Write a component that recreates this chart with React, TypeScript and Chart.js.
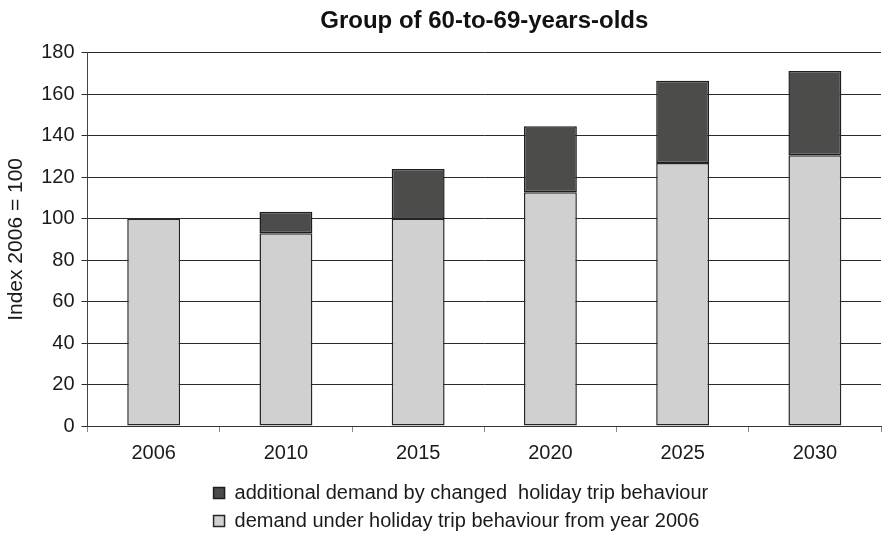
import React, { useEffect, useRef } from "react";
import { Chart, registerables } from "chart.js";

Chart.register(...registerables);

const categories = ["2006", "2010", "2015", "2020", "2025", "2030"];
const baseDemand = [100, 93, 100, 112.8, 126.9, 130.6];
const additionalDemand = [0, 10.3, 24, 31.8, 39.6, 40.6];
const yMin = 0;
const yMax = 180;
const yStep = 20;

const titleText = "Group of 60-to-69-years-olds";
const yTitle = "Index 2006 = 100";
const baseLabel = "demand under holiday trip behaviour from year 2006";
const addLabel = "additional demand by changed  holiday trip behaviour";

const FONT = "'Liberation Sans', Arial, Helvetica, sans-serif";
const TEXT = "#1a1a1a";
const LEGEND_OFFSET = 118;
const LEGEND_DY = 1;

const legendShift = {
  id: "legendShift",
  afterLayout(chart: any) {
    const lg = chart.legend;
    if (!lg) return;
    const w = lg.right - lg.left;
    const start = chart.chartArea.left + LEGEND_OFFSET;
    lg.left = start;
    lg.right = start + w;
    lg.top += LEGEND_DY;
    lg.bottom += LEGEND_DY;
  },
};

export default function App() {
  const ref = useRef<HTMLCanvasElement | null>(null);

  useEffect(() => {
    document.body.style.margin = "0";
    const canvas = ref.current;
    if (!canvas) return;
    const chart = new Chart(canvas, {
      type: "bar",
      data: {
        labels: categories,
        datasets: [
          {
            label: baseLabel,
            data: baseDemand,
            backgroundColor: "#d0d0d0",
            borderColor: "#262626",
            borderWidth: 1.5,
            borderSkipped: false,
            categoryPercentage: 1,
            barPercentage: 0.4,
          },
          {
            label: addLabel,
            data: additionalDemand,
            backgroundColor: "#4c4c4b",
            borderColor: "#1e1e1e",
            borderWidth: 1.5,
            borderSkipped: false,
            categoryPercentage: 1,
            barPercentage: 0.4,
          },
        ],
      },
      options: {
        responsive: false,
        animation: false,
        events: [],
        layout: { padding: { left: 0, right: 1, top: 0, bottom: -2 } },
        scales: {
          x: {
            stacked: true,
            offset: true,
            grid: {
              offset: true,
              drawOnChartArea: false,
              drawTicks: true,
              tickLength: 6,
              color: "#888888",
            },
            border: { display: true, color: "#333333", width: 1 },
            ticks: {
              color: TEXT,
              font: { family: FONT, size: 20 },
              padding: 9,
              maxRotation: 0,
            },
          },
          y: {
            stacked: true,
            min: yMin,
            max: yMax,
            ticks: {
              stepSize: yStep,
              color: TEXT,
              font: { family: FONT, size: 20 },
              padding: 7,
            },
            grid: {
              color: "#2a2a2a",
              lineWidth: 1,
              drawTicks: true,
              tickLength: 6,
            },
            border: { display: true, color: "#444444", width: 1 },
            title: {
              display: true,
              text: yTitle,
              color: TEXT,
              font: { family: FONT, size: 21 },
              padding: { top: 4, bottom: 5 },
            },
          },
        },
        plugins: {
          title: {
            display: true,
            text: titleText,
            fullSize: false,
            color: "#111111",
            font: { family: FONT, size: 24, weight: "bold" },
            padding: { top: 7, bottom: 17 },
          },
          legend: {
            display: true,
            position: "bottom",
            align: "start",
            reverse: true,
            labels: {
              color: TEXT,
              font: { family: FONT, size: 20 },
              boxWidth: 11,
              boxHeight: 11,
              padding: 8,
            },
          },
          tooltip: { enabled: false },
        },
      },
      plugins: [legendShift],
    });
    return () => chart.destroy();
  }, []);

  return (
    <div style={{ width: 882, height: 538, background: "#ffffff" }}>
      <canvas ref={ref} width={882} height={538} />
    </div>
  );
}
